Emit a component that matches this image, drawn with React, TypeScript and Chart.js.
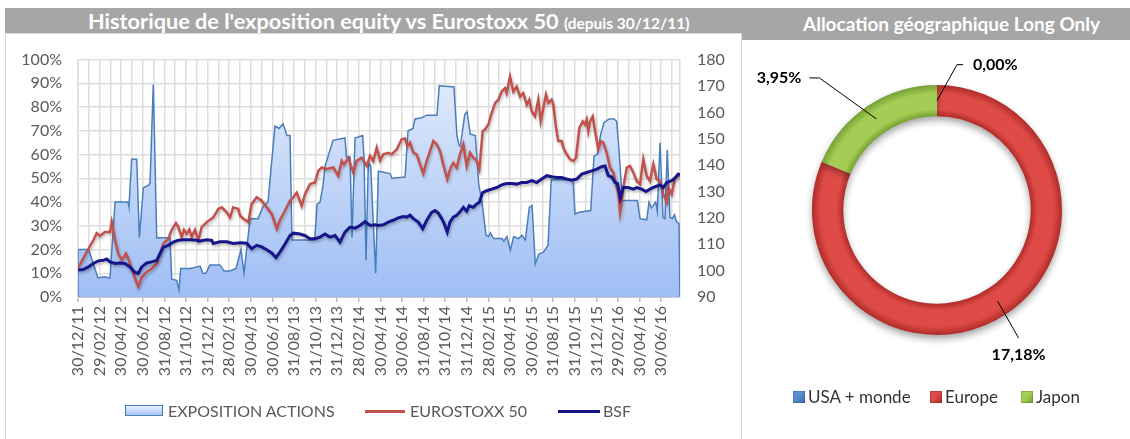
import React, { useEffect, useRef } from 'react';
import { Chart, registerables } from 'chart.js';

Chart.register(...registerables);

const FONT = 'Lato, "Open Sans", "DejaVu Sans", sans-serif';

// ---------- Data ----------
const xTickLabels = [
  '30/12/11', '29/02/12', '30/04/12', '30/06/12', '31/08/12', '31/10/12', '31/12/12',
  '28/02/13', '30/04/13', '30/06/13', '31/08/13', '31/10/13', '31/12/13', '28/02/14',
  '30/04/14', '30/06/14', '31/08/14', '31/10/14', '31/12/14', '28/02/15', '30/04/15',
  '30/06/15', '31/08/15', '31/10/15', '31/12/15', '29/02/16', '30/04/16', '30/06/16',
];

// x values are months elapsed since 30/12/11
const expoMonths = [
  0, 0, 0.99, 1.85, 2.41, 2.96, 3.43, 4.63, 4.72, 4.97, 5.44, 5.68, 6.05, 6.51, 6.67, 6.97,
  7.29, 8.52, 8.68, 9.14, 9.35, 9.51, 10.37, 11.3, 11.57, 11.85, 12.22, 13.15, 13.52, 14.07,
  14.63, 15.09, 15.37, 15.93, 16.67, 17.13, 17.59, 18.24, 18.61, 18.98, 19.35, 19.63, 19.81,
  21.92, 22.13, 22.41, 22.69, 22.87, 23.61, 24.72, 24.86, 25.19, 25.37, 25.65, 26.36, 26.48,
  26.67, 26.88, 27.1, 27.56, 27.81, 28.89, 29.07, 30.28, 30.56, 31.02, 31.2, 31.82, 32.31,
  33.24, 33.45, 34.81, 35.09, 35.28, 35.4, 35.81, 36.02, 36.32, 36.79, 37.1, 37.41, 37.78,
  38.03, 38.18, 38.49, 39.26, 39.42, 39.72, 40.03, 40.34, 40.81, 41.11, 41.42, 41.79, 42.04,
  42.34, 42.66, 43.12, 43.52, 43.82, 45.83, 46.02, 46.39, 47.47, 47.78, 48.08, 48.4, 48.7,
  49.17, 49.63, 49.88, 50.09, 50.4, 51.79, 52.04, 52.66, 52.87, 53.08, 53.49, 53.64, 53.89,
  54.17, 54.35, 54.56, 54.81, 55.03, 55.23, 55.44, 55.65, 55.74,
];
const expoValues = [
  0, 20, 20, 8, 8.5, 8, 40, 40, 38, 58, 58, 25, 46, 47, 48, 89.5,
  25, 25, 7.5, 7, 3, 12, 12, 13, 10, 10, 13.5, 13.5, 11, 11,
  12, 20, 10, 33, 33, 38, 40, 72, 71, 73, 68, 68, 24,
  24, 39, 40, 47, 55, 66, 67, 59, 59, 25, 67, 68, 59,
  15.5, 56.6, 55, 10, 53, 52, 50, 50.5, 70, 71, 75, 75.5, 76.6,
  76.6, 89, 88.5, 67.8, 64, 63.5, 76.8, 78, 68.6, 68, 47.7, 40, 26,
  25.5, 27, 24.6, 24.6, 23.5, 25.5, 19.7, 25.5, 24.6, 26, 24, 37.8, 38.5,
  14, 18, 19, 21.8, 49.4, 49.4, 35, 35.7, 36.4, 59.4, 60, 68.5, 73.4,
  75, 75, 74, 62, 40.6, 40.6, 33, 32.5, 40, 37.5, 40, 36, 65,
  33.6, 33, 62, 33.6, 33, 34.6, 31.5, 31, 0,
];

const euroMonths = [
  0, 0.49, 0.93, 1.42, 1.73, 2.04, 2.5, 2.96, 3.12, 3.43, 3.73, 4.05, 4.44, 4.66, 5.12, 5.58,
  5.9, 6.36, 6.82, 7.29, 7.9, 8.36, 8.68, 9.07, 9.29, 9.6, 9.81, 10.06, 10.31, 10.53, 10.83,
  11.14, 11.45, 11.92, 12.53, 12.99, 13.31, 13.77, 14.07, 14.38, 14.84, 15.0, 15.31, 15.77,
  16.08, 16.55, 17.01, 17.47, 17.94, 18.4, 18.7, 19.17, 19.63, 19.94, 20.25, 20.71, 21.02,
  21.48, 21.94, 22.25, 22.56, 23.03, 23.64, 24.1, 24.42, 24.63, 25.03, 25.49, 25.81, 26.27,
  26.73, 27.04, 27.34, 27.66, 27.96, 28.27, 28.73, 29.05, 29.51, 29.97, 30.28, 30.49, 30.74,
  31.05, 31.36, 31.67, 31.97, 32.29, 32.59, 32.9, 33.21, 33.52, 33.82, 34.19, 34.51, 34.75,
  35.06, 35.37, 35.68, 35.99, 36.3, 36.6, 36.92, 37.16, 37.47, 37.69, 37.99, 38.31, 38.61,
  38.92, 39.23, 39.54, 39.69, 40.0, 40.31, 40.62, 40.93, 41.23, 41.55, 41.79, 42.01, 42.31,
  42.62, 42.84, 43.08, 43.33, 43.55, 43.86, 44.01, 44.26, 44.47, 44.79, 44.94, 45.25, 45.56,
  45.86, 46.11, 46.42, 46.73, 46.94, 47.1, 47.25, 47.41, 47.66, 47.87, 48.18, 48.4, 48.64,
  48.95, 49.26, 49.57, 50.03, 50.19, 50.49, 50.81, 51.11, 51.42, 51.73, 52.04, 52.34, 52.66,
  52.96, 53.27, 53.58, 53.89, 54.19, 54.51, 54.66, 54.97, 55.28, 55.58, 55.74,
];
const euroValues = [
  100.8, 104.7, 108, 111.5, 114.2, 113.2, 114.6, 114.6, 118.4, 111.5, 106.4, 104, 106.5, 104.5, 98.9, 94,
  97.5, 99.5, 100.8, 102.7, 110.2, 112.1, 115.5, 118, 116.5, 112.7, 115.5, 114, 115.6, 112.7, 115.5,
  111.5, 116.5, 118.4, 120.2, 123.4, 124, 122.1, 120.2, 124, 123.4, 120.9, 119.7, 118.4,
  125.3, 127.8, 126.5, 124, 121.5, 115.9, 119.2, 122.8, 126.5, 127.8, 129.6, 124.6, 129,
  132.8, 133.4, 137.8, 139.1, 138.5, 139.1, 136, 141.6, 140.3, 142.8, 137.2, 141.6, 142.8,
  139.7, 143.5, 141.6, 146.6, 141.8, 144.1, 144.7, 144.1, 146, 149.8, 150.1, 147.2, 148.5,
  144.7, 144.1, 140.3, 136.8, 141.6, 145.3, 149.1, 147.9, 145.3, 140.3, 134.7, 139.1, 140.9,
  139.1, 144.1, 147.9, 139.7, 144.7, 142.8, 141.6, 138.5, 152.9, 153.5, 155.4, 159.8, 163.5,
  164.8, 167.9, 169.2, 167.3, 173.6, 167.9, 169.8, 166, 167.3, 162.9, 164.8, 160.4, 158.5,
  164.8, 156.6, 161.6, 166.7, 163.5, 164.8, 162.9, 154.1, 149.1, 149.1, 146.6, 144.1, 142.2,
  141.6, 142.8, 154.1, 156.6, 155.4, 157.3, 152.9, 156.6, 158.5, 152.9, 146, 149.1, 148.5,
  144.7, 139.1, 137.2, 129, 122.1, 131.5, 139.1, 139.7, 137.2, 134, 132.8, 142.2, 135.9,
  134, 140.3, 134.7, 134, 129, 125.9, 131.5, 129, 135.3, 136, 136.2,
];

const bsfMonths = [
  0, 0.49, 0.95, 1.42, 1.88, 2.34, 2.66, 2.96, 3.43, 3.89, 4.35, 4.81, 5.28, 5.58, 5.9, 6.36,
  6.82, 7.29, 7.59, 7.9, 8.36, 8.82, 9.29, 9.75, 10.37, 10.99, 11.3, 11.92, 12.38, 12.53, 13.15,
  13.77, 14.38, 15.0, 15.62, 16.08, 16.55, 17.01, 17.47, 17.94, 18.33, 18.7, 19.17, 19.63,
  19.94, 20.56, 21.02, 21.48, 21.94, 22.41, 22.87, 23.33, 23.8, 24.26, 24.72, 25.19, 25.65,
  26.11, 26.57, 27.04, 27.5, 27.81, 28.27, 28.73, 29.19, 29.66, 30.12, 30.44, 30.74, 31.05,
  31.51, 31.92, 32.29, 32.75, 33.06, 33.36, 33.68, 33.89, 34.19, 34.44, 34.75, 35.06, 35.37,
  35.68, 35.99, 36.23, 36.6, 36.92, 37.16, 37.47, 37.84, 38.31, 38.77, 39.23, 39.69, 40.16,
  40.62, 41.08, 41.55, 42.01, 42.47, 42.94, 43.4, 43.86, 44.32, 44.79, 45.25, 45.71, 46.18,
  46.64, 47.1, 47.56, 48.03, 48.49, 48.8, 49.1, 49.42, 49.72, 49.95, 50.21, 50.49, 50.95,
  51.42, 51.73, 52.19, 52.59, 52.96, 53.43, 53.89, 54.19, 54.51, 54.97, 55.28, 55.58, 55.74,
];
const bsfValues = [
  100.2, 100.4, 101.4, 102.7, 103.7, 103.9, 104.4, 103.3, 102.7, 102.9, 102.7, 101.4, 99.3, 98.9, 101.4, 102.9,
  103.3, 103.9, 106.4, 108.9, 109.6, 110.8, 111.5, 111.7, 111.7, 111.5, 111.2, 111.7, 111.5, 110.3, 110.9,
  110.9, 110.3, 110.6, 110.4, 108.3, 109.6, 109, 107.9, 106.7, 104.9, 107, 110.1, 113.3,
  114.2, 113.9, 113.3, 112.1, 112.1, 112.7, 113.9, 112.7, 113.3, 110.8, 114.6, 116.5, 116.1,
  117.1, 118.6, 117.1, 117.4, 117.1, 117.4, 118.4, 119.1, 120, 120.5, 120.3, 121, 119.7,
  118.4, 115.9, 119.1, 122.1, 122.8, 121.8, 119.7, 118, 114.6, 118.4, 120.3, 121, 122.3,
  124, 122.5, 124.6, 124, 125.3, 125.9, 129.6, 130.3, 130.9, 131.5, 132.5, 133, 133,
  132.8, 133.4, 133.4, 134.1, 133.4, 134.7, 136, 135.6, 135.3, 135.3, 134.7, 134.3, 134.7,
  136.6, 137.2, 137.8, 138.5, 139.4, 139.7, 136, 135.5, 133.5, 133, 127.5, 131.5, 131.5,
  130.9, 131.5, 130.9, 130, 130.9, 131.8, 132.5, 131.5, 133.4, 134.1, 135.1, 136.6, 136.3,
];

const regionNames = ['USA + monde', 'Europe', 'Japon'];
const regionValues = [0, 17.18, 3.95];
const regionLabels = ['0,00%', '17,18%', '3,95%'];

// ---------- Helpers ----------
const toPoints = (xs: number[], ys: number[]) => xs.map((x, i) => ({ x, y: ys[i] }));
const monthTicks = Array.from({ length: 56 }, (_, i) => i);

const ringColors = [
  { light: '#5B8FD0', dark: '#3A67A3' },
  { light: '#DE4B46', dark: '#B02C29' },
  { light: '#A3CD55', dark: '#76A034' },
];

export default function App() {
  const lineRef = useRef<HTMLCanvasElement>(null);
  const donutRef = useRef<HTMLCanvasElement>(null);

  useEffect(() => {
    const shadowPlugin = {
      id: 'lineShadow',
      beforeDatasetDraw(chart: any, args: any) {
        if (args.meta.yAxisID !== 'y2') return;
        const c = chart.ctx;
        c.save();
        c.shadowColor = 'rgba(0,0,0,0.28)';
        c.shadowBlur = 3;
        c.shadowOffsetX = 1;
        c.shadowOffsetY = 2;
      },
      afterDatasetDraw(chart: any, args: any) {
        if (args.meta.yAxisID !== 'y2') return;
        chart.ctx.restore();
      },
    };

    const gridColor = '#DEDEDE';
    const tickFont = { family: FONT, size: 16 };

    const lineChart = new Chart(lineRef.current as HTMLCanvasElement, {
      type: 'line',
      data: {
        datasets: [
          {
            label: 'BSF',
            data: toPoints(bsfMonths, bsfValues),
            yAxisID: 'y2',
            borderColor: '#16168A',
            borderWidth: 3,
            pointRadius: 0,
            tension: 0,
            order: 1,
          },
          {
            label: 'EUROSTOXX 50',
            data: toPoints(euroMonths, euroValues),
            yAxisID: 'y2',
            borderColor: '#C4504C',
            borderWidth: 2.5,
            pointRadius: 0,
            tension: 0,
            order: 2,
          },
          {
            label: 'EXPOSITION ACTIONS',
            data: toPoints(expoMonths, expoValues),
            yAxisID: 'y',
            borderColor: '#4A7EBB',
            borderWidth: 1.5,
            pointRadius: 0,
            tension: 0,
            fill: 'origin',
            backgroundColor: (ctx: any) => {
              const chart = ctx.chart;
              const a = chart.chartArea;
              if (!a) return 'rgba(170,198,244,0.9)';
              const g = chart.ctx.createLinearGradient(0, a.top, 0, a.bottom);
              g.addColorStop(0, '#E6EEFC');
              g.addColorStop(1, '#9EBEF4');
              return g;
            },
            order: 3,
          },
        ] as any,
      },
      options: {
        responsive: false,
        animation: false,
        layout: { padding: { top: 25, left: 0, right: 0, bottom: 0 } },
        plugins: { legend: { display: false }, tooltip: { enabled: false } },
        scales: {
          x: {
            type: 'linear',
            min: 0,
            max: 55.74,
            afterBuildTicks: (s: any) => {
              s.ticks = monthTicks.map((v) => ({ value: v }));
            },
            afterFit: (s: any) => {
              s.height = 142;
            },
            ticks: {
              autoSkip: false,
              minRotation: 90,
              maxRotation: 90,
              padding: 4,
              font: tickFont,
              color: '#595959',
              callback: (v: any) => (v % 2 === 0 ? xTickLabels[v / 2] ?? '' : ''),
            },
            grid: {
              color: gridColor,
              lineWidth: 1.5,
              tickLength: 5,
              tickColor: (c: any) => (c.tick && c.tick.value % 2 === 0 ? '#BFBFBF' : 'rgba(0,0,0,0)'),
            },
            border: { color: '#C8C8C8', width: 1 },
          },
          y: {
            position: 'left',
            min: 0,
            max: 100,
            afterFit: (s: any) => {
              s.width = 73;
            },
            ticks: {
              stepSize: 10,
              padding: 16,
              font: tickFont,
              color: '#595959',
              callback: (v: any) => v + '%',
            },
            grid: { color: gridColor, lineWidth: 1.5, drawTicks: false },
            border: { color: gridColor, width: 1.5 },
          },
          y2: {
            position: 'right',
            min: 90,
            max: 180,
            afterFit: (s: any) => {
              s.width = 62;
            },
            ticks: {
              stepSize: 10,
              padding: 17,
              font: tickFont,
              color: '#595959',
            },
            grid: { display: false, drawTicks: false },
            border: { color: gridColor, width: 1.5 },
          },
        } as any,
      },
      plugins: [shadowPlugin],
    });

    const ringGradient = (ctx: any) => {
      const chart = ctx.chart;
      const a = chart.chartArea;
      const col = ringColors[ctx.dataIndex] || ringColors[0];
      if (!a) return col.light;
      const cx = (a.left + a.right) / 2;
      const cy = (a.top + a.bottom) / 2;
      const r = Math.min(a.right - a.left, a.bottom - a.top) / 2;
      const g = chart.ctx.createRadialGradient(cx, cy, r * 0.75, cx, cy, r);
      g.addColorStop(0, col.dark);
      g.addColorStop(0.22, col.light);
      g.addColorStop(0.72, col.light);
      g.addColorStop(1, col.dark);
      return g;
    };

    const donutPlugin = {
      id: 'donutDecor',
      beforeDatasetsDraw(chart: any) {
        const c = chart.ctx;
        c.save();
        c.shadowColor = 'rgba(0,0,0,0.35)';
        c.shadowBlur = 7;
        c.shadowOffsetY = 4;
      },
      afterDatasetsDraw(chart: any) {
        const c = chart.ctx;
        c.restore();
        const meta = chart.getDatasetMeta(0);
        c.save();
        c.strokeStyle = '#000';
        c.lineWidth = 1;
        c.fillStyle = '#000';
        c.font = `bold 16px ${FONT}`;
        c.textBaseline = 'middle';
        meta.data.forEach((arc: any, i: number) => {
          const p = arc.getProps(['x', 'y', 'startAngle', 'endAngle', 'innerRadius', 'outerRadius'], true);
          const mid = (p.startAngle + p.endAngle) / 2;
          const r = (p.innerRadius + p.outerRadius) / 2;
          const sx = p.x + Math.cos(mid) * r;
          const sy = p.y + Math.sin(mid) * r;
          const text = regionLabels[i];
          c.beginPath();
          c.moveTo(sx, sy);
          if (i === 0) {
            const ex = sx + 20, ey = sy - 36;
            c.lineTo(ex, ey);
            c.lineTo(ex + 6, ey);
            c.stroke();
            c.textAlign = 'left';
            c.fillText(text, ex + 16, ey);
          } else if (i === 2) {
            const ex = sx - 57, ey = sy - 41;
            c.lineTo(ex, ey);
            c.lineTo(ex - 10, ey);
            c.stroke();
            c.textAlign = 'right';
            c.fillText(text, ex - 18, ey);
          } else {
            const ex = sx + 21, ey = sy + 37;
            c.lineTo(ex, ey);
            c.stroke();
            c.textAlign = 'center';
            c.fillText(text, ex, ey + 17);
          }
        });
        c.restore();
      },
    };

    const donutChart = new Chart(donutRef.current as HTMLCanvasElement, {
      type: 'doughnut',
      data: {
        labels: regionNames,
        datasets: [
          {
            data: regionValues,
            backgroundColor: ringGradient as any,
            borderWidth: 0,
          },
        ],
      },
      options: {
        responsive: false,
        animation: false,
        cutout: '75%',
        layout: { padding: { left: 70, right: 68, top: 45, bottom: 104 } },
        plugins: { legend: { display: false }, tooltip: { enabled: false } },
      },
      plugins: [donutPlugin],
    });

    return () => {
      lineChart.destroy();
      donutChart.destroy();
    };
  }, []);

  const abs = (l: number, t: number, extra: any = {}) => ({ position: 'absolute', left: l, top: t, ...extra } as any);
  const legendText = { fontFamily: FONT, fontSize: 16, color: '#595959', lineHeight: '20px', whiteSpace: 'nowrap' };
  const donutLegendText = { fontFamily: FONT, fontSize: 17, color: '#333333', lineHeight: '20px', whiteSpace: 'nowrap' };
  const square = (c: { light: string; dark: string }) => ({
    width: 12,
    height: 12,
    background: `linear-gradient(135deg, ${c.light} 0%, ${c.light} 45%, ${c.dark} 100%)`,
    boxShadow: 'inset 0 0 0 1px rgba(0,0,0,0.15)',
  });

  return (
    <div style={{ position: 'fixed', left: 0, top: 0, width: 1130, height: 439, background: '#fff', overflow: 'hidden' }}>
      {/* title bars */}
      <div style={abs(5, 8, { width: 1125, height: 25, background: '#A6A6A6' })} />
      <div style={abs(742, 33, { width: 388, height: 7, background: '#A6A6A6' })} />
      <div style={abs(88, 8, { height: 26, lineHeight: '26px', color: '#fff', fontFamily: FONT, fontWeight: 700, fontSize: 21.7, whiteSpace: 'nowrap' })}>
        Historique de l'exposition equity vs Eurostoxx 50{' '}
        <span style={{ fontSize: 15.5 }}>(depuis 30/12/11)</span>
      </div>
      <div style={abs(803, 8, { height: 32, lineHeight: '32px', color: '#fff', fontFamily: FONT, fontWeight: 700, fontSize: 19, whiteSpace: 'nowrap' })}>
        Allocation géographique Long Only
      </div>

      {/* left panel */}
      <div style={abs(5, 33, { width: 737, height: 420, border: '1px solid #D9D9D9', boxSizing: 'border-box', background: '#fff' })} />
      <canvas ref={lineRef} width={737} height={406} style={abs(5, 33)} />

      {/* left legend */}
      <div style={abs(125, 405, { width: 38, height: 11, boxSizing: 'border-box', border: '1.5px solid #4A7EBB', background: 'linear-gradient(#E6EEFC, #A9C6F5)' })} />
      <div style={abs(168, 401, legendText)}>EXPOSITION ACTIONS</div>
      <div style={abs(365, 410, { width: 40, height: 3, background: '#C4504C' })} />
      <div style={abs(410, 401, legendText)}>EUROSTOXX 50</div>
      <div style={abs(558, 410, { width: 42, height: 3, background: '#16168A' })} />
      <div style={abs(603, 401, legendText)}>BSF</div>

      {/* donut */}
      <canvas ref={donutRef} width={388} height={399} style={abs(742, 40)} />
      <div style={abs(793, 391, square(ringColors[0]))} />
      <div style={abs(808, 387, donutLegendText)}>{regionNames[0]}</div>
      <div style={abs(930, 391, square(ringColors[1]))} />
      <div style={abs(945, 387, donutLegendText)}>{regionNames[1]}</div>
      <div style={abs(1021, 391, square(ringColors[2]))} />
      <div style={abs(1036, 387, donutLegendText)}>{regionNames[2]}</div>
    </div>
  );
}
